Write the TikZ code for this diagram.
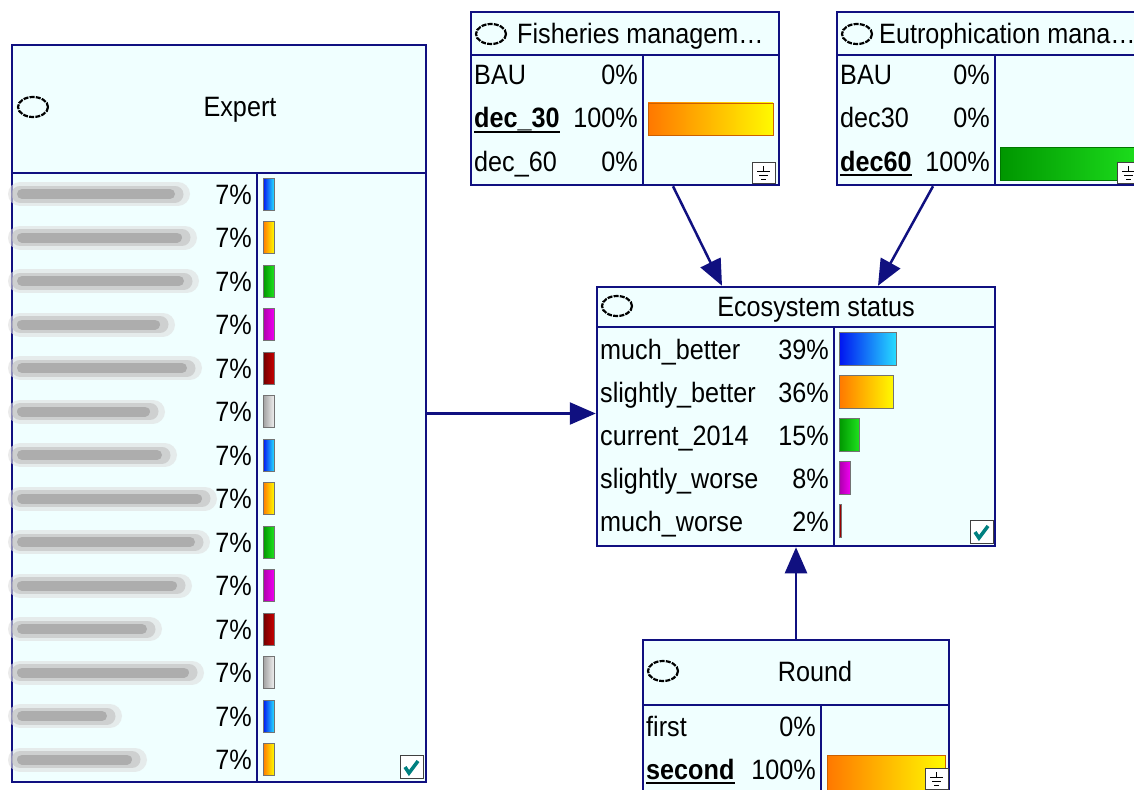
\documentclass[tikz,border=0pt]{standalone}
\usepackage{fontspec}
\setmainfont{Liberation Sans}[FakeStretch=0.9]
\usetikzlibrary{arrows.meta}
\definecolor{netblue}{RGB}{16,16,128}
\definecolor{nodefill}{RGB}{240,255,255}
\definecolor{b1}{RGB}{0,20,240}
\definecolor{b2}{RGB}{40,220,255}
\definecolor{o1}{RGB}{255,120,0}
\definecolor{o2}{RGB}{255,250,0}
\definecolor{g1}{RGB}{0,150,0}
\definecolor{g2}{RGB}{30,225,30}
\definecolor{m1}{RGB}{170,0,170}
\definecolor{m2}{RGB}{240,0,240}
\definecolor{r1}{RGB}{110,0,0}
\definecolor{r2}{RGB}{200,0,0}
\definecolor{s1}{RGB}{160,160,160}
\definecolor{s2}{RGB}{238,238,238}
\definecolor{checkteal}{RGB}{0,128,128}
\newcommand{\bnfont}{\fontsize{28}{32}\selectfont}

\tikzset{
	bnnode/.style={draw=netblue, line width=2.5pt, fill=nodefill, rectangle, inner sep=0pt},
	sep/.style={draw=netblue, line width=2.5pt},
	link/.style={draw=netblue, line width=2.5pt, -{Triangle[length=26pt,width=22pt]}},
	state/.style={anchor=west, inner sep=0pt, text height=20pt, text depth=0pt, font=\bnfont},
	pct/.style={anchor=east, inner sep=0pt, text height=20pt, text depth=0pt, font=\bnfont},
	title/.style={inner sep=0pt, text height=20pt, text depth=0pt, font=\bnfont},
	ring/.style={draw=black, line width=2.2pt, dash pattern=on 5pt off 1.2pt},
	bar/.style={draw=black!55, line width=0.8pt},
	icon/.style={draw=black!75, fill=white, line width=1pt},
	haze/.style={draw=gray!25, line width=24pt, line cap=round, opacity=0.6},
	blur/.style={draw=gray!50, line width=17pt, line cap=round, opacity=0.6},
	smudge/.style={draw=gray!75, line width=10pt, line cap=round, opacity=0.7},
	selline/.style={draw=black, line width=2.2pt}
}

\begin{document}
\begin{tikzpicture}[x=1pt,y=-1pt]
	\fill[white] (0,0) rectangle (1134,789);
	\useasboundingbox (0,0) rectangle (1134,789);
	\clip (0,0) rectangle (1134,789);

	% the five nodes of the net
	\node[bnnode, minimum width=414pt, minimum height=737pt] (expert) at (219,413.5) {};
	\node[bnnode, minimum width=308pt, minimum height=173pt] (fish) at (625,98.5) {};
	\node[bnnode, minimum width=308pt, minimum height=173pt] (eutro) at (991,98.5) {};
	\node[bnnode, minimum width=398pt, minimum height=259pt] (eco) at (796,416.5) {};
	\node[bnnode, minimum width=306pt, minimum height=160pt] (round) at (796,720) {};

	\draw[sep] (12,173) -- (426,173) (257,173) -- (257,782);
	\draw[sep] (471,55) -- (779,55) (643,55) -- (643,185);
	\draw[sep] (837,55) -- (1145,55) (995,55) -- (995,185);
	\draw[sep] (597,327) -- (995,327) (834,327) -- (834,546);
	\draw[sep] (643,705) -- (949,705) (821,705) -- (821,800);

	% titles
	\foreach \x/\y in {33/107, 491/34, 857/34, 617/306, 663/671}
		\draw[ring] (\x,\y) ellipse (15 and 10);
	\node[title] (expert-t) at (240,107) {Expert};
	\node[title, anchor=west] (fish-t) at (517,34) {Fisheries managem…};
	\node[title, anchor=west] (eutro-t) at (879,34) {Eutrophication mana…};
	\node[title] (eco-t) at (816,306) {Ecosystem status};
	\node[title] (round-t) at (815,671) {Round};

	% Expert states (names hidden)
	\foreach \i/\w/\ca/\cb in {0/178/b1/b2, 1/185/o1/o2, 2/187/g1/g2, 3/163/m1/m2,
		4/190/r1/r2, 5/153/s1/s2, 6/165/b1/b2, 7/205/o1/o2, 8/198/g1/g2, 9/180/m1/m2,
		10/150/r1/r2, 11/192/s1/s2, 12/110/b1/b2, 13/135/o1/o2} {
		\pgfmathsetmacro{\yy}{194+43.5*\i}
		\draw[haze] (20,\yy) -- (\w,\yy);
		\draw[blur] (20,\yy) -- (\w-3,\yy);
		\draw[smudge] (22,\yy) -- (\w-8,\yy);
		\node[pct] (expert-p\i) at (252,\yy) {7\%};
		\shadedraw[bar, left color=\ca, right color=\cb] (263,\yy-16) rectangle (274,\yy+16);
	}

	% Fisheries management
	\node[state] (fish-s0) at (474,75) {BAU};
	\node[state] (fish-s1) at (474,118) {\textbf{dec\_30}};
	\node[state] (fish-s2) at (474,161) {dec\_60};
	\node[pct] (fish-p0) at (638,75) {0\%};
	\node[pct] (fish-p1) at (638,118) {100\%};
	\node[pct] (fish-p2) at (638,161) {0\%};
	\draw[selline] ([yshift=-4pt]fish-s1.south west) -- ([yshift=-4pt]fish-s1.south east);
	\shadedraw[bar, draw=o1!80!black, left color=o1, right color=o2] (648,103) rectangle (773,135);

	% Eutrophication management
	\node[state] (eutro-s0) at (840,75) {BAU};
	\node[state] (eutro-s1) at (840,118) {dec30};
	\node[state] (eutro-s2) at (840,161) {\textbf{dec60}};
	\node[pct] (eutro-p0) at (990,75) {0\%};
	\node[pct] (eutro-p1) at (990,118) {0\%};
	\node[pct] (eutro-p2) at (990,161) {100\%};
	\draw[selline] ([yshift=-4pt]eutro-s2.south west) -- ([yshift=-4pt]eutro-s2.south east);
	\shadedraw[bar, draw=g1!80!black, left color=g1, right color=g2] (1000,147) rectangle (1145,180);

	% Ecosystem status
	\foreach \i/\s/\p/\w/\ca/\cb in {0/much\_better/39/57/b1/b2, 1/slightly\_better/36/54/o1/o2,
		2/current\_2014/15/20/g1/g2, 3/slightly\_worse/8/11/m1/m2, 4/much\_worse/2/2/r1/r2} {
		\pgfmathsetmacro{\yy}{349+43*\i}
		\node[state] (eco-s\i) at (600,\yy) {\s};
		\node[pct] (eco-p\i) at (829,\yy) {\p\%};
		\shadedraw[bar, left color=\ca, right color=\cb] (839,\yy-16.5) rectangle (839+\w,\yy+16.5);
	}

	% Round
	\node[state] (round-s0) at (646,726) {first};
	\node[state] (round-s1) at (646,769) {\textbf{second}};
	\node[pct] (round-p0) at (816,726) {0\%};
	\node[pct] (round-p1) at (816,769) {100\%};
	\draw[selline] ([yshift=-4pt]round-s1.south west) -- ([yshift=-4pt]round-s1.south east);
	\shadedraw[bar, draw=o1!80!black, left color=o1, right color=o2] (827,755) rectangle (945,800);

	% small icons
	\foreach \x/\y in {752/162, 1117/162, 925/768} {
		\filldraw[icon] (\x,\y) rectangle (\x+23,\y+21);
		\draw[line width=1pt] (\x+11.5,\y+4) -- (\x+11.5,\y+9)
			(\x+5,\y+9) -- (\x+18,\y+9) (\x+7,\y+13) -- (\x+16,\y+13) (\x+9,\y+17) -- (\x+14,\y+17);
	}
	\foreach \x/\y in {400/755, 970/520} {
		\filldraw[icon] (\x,\y) rectangle (\x+23,\y+23);
		\draw[checkteal, line width=3.5pt] (\x+5,\y+12) -- (\x+9,\y+18) -- (\x+18,\y+6);
	}

	% links
	\draw[link] ([xshift=48pt]fish.south) -- ([xshift=-74pt]eco.north);
	\draw[link] ([xshift=-58pt]eutro.south) -- ([xshift=82pt]eco.north);
	\draw[link] (expert.east) -- (expert.east -| eco.west);
	\draw[link] (round.north) -- (round.north |- eco.south);
\end{tikzpicture}
\end{document}
